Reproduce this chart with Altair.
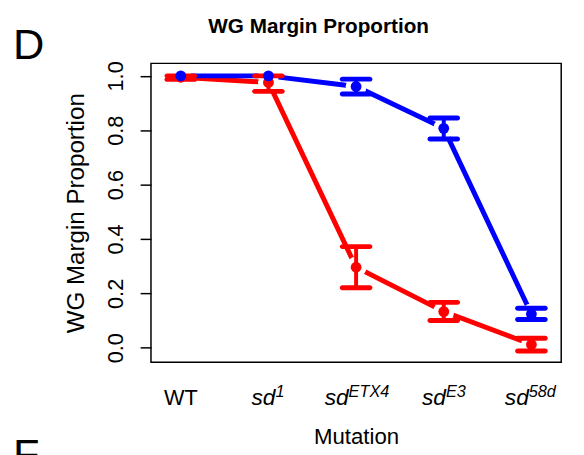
import altair as alt
import pandas as pd

# ---- data ----
categories = ["WT", "sd", "sd", "sd", "sd"]
superscripts = ["", "1", "ETX4", "E3", "58d"]

red_mean = [0.995, 0.976, 0.296, 0.133, 0.012]
red_lo = [0.987, 0.943, 0.221, 0.100, -0.012]
red_hi = [1.000, 1.000, 0.372, 0.167, 0.035]

blue_mean = [1.000, 1.000, 0.961, 0.807, 0.124]
blue_lo = [1.000, 1.000, 0.933, 0.768, 0.104]
blue_hi = [1.000, 1.000, 0.988, 0.845, 0.145]

y_ticks = [0.0, 0.2, 0.4, 0.6, 0.8, 1.0]

RED = "#FF0000"
BLUE = "#0000FF"
REG = "Liberation Sans, Arial, Helvetica, sans-serif"

rows = []
for series, m, lo, hi in (("red", red_mean, red_lo, red_hi), ("blue", blue_mean, blue_lo, blue_hi)):
    for i in range(len(categories)):
        rows.append({"series": series, "pos": i + 1, "mean": m[i], "lo": lo[i], "hi": hi[i]})
df = pd.DataFrame(rows)

labels = pd.DataFrame({"pos": list(range(1, len(categories) + 1)), "base": categories, "sup": superscripts})

xscale = alt.Scale(domain=[0.66, 5.34], nice=False, zero=False)
yscale = alt.Scale(domain=[-0.053, 1.046], nice=False, zero=False)

xaxis = alt.Axis(labels=False, ticks=False, domain=False, grid=False, title="Mutation",
                 titleFont=REG, titleFontSize=22.5, titleFontWeight="normal", titleColor="black",
                 titleX=208, titleY=82, titleAlign="center", titleBaseline="alphabetic")
yaxis = alt.Axis(values=y_ticks, format=".1f", labelAngle=270, labelAlign="center",
                 labelBaseline="alphabetic", labelPadding=18, tickSize=11, tickWidth=1.5,
                 tickColor="black", domain=False, grid=False, labelFont=REG, labelFontSize=22,
                 labelColor="black", labelOverlap=False, labelFlush=False,
                 title="WG Margin Proportion", titleFont=REG, titleFontSize=24.5,
                 titleFontWeight="normal", titleColor="black", titleAngle=270, titleX=-68,
                 titleY=151.5, titleAlign="center", titleBaseline="alphabetic")


def X(field):
    return alt.X(field, type="quantitative", scale=xscale, axis=xaxis)


def Y(field):
    return alt.Y(field, type="quantitative", scale=yscale, axis=yaxis)


base = alt.Chart(df)


def sel(s):
    return base.transform_filter(f"datum.series == '{s}'")


def lines(s, c):
    return sel(s).mark_line(color=c, strokeWidth=5, strokeCap="round").encode(x=X("pos"), y=Y("mean"))


gaps = base.mark_circle(color="white", size=450, opacity=1).encode(x=X("pos"), y=Y("mean"))


def errs(s, c):
    b = sel(s).transform_filter("datum.hi > datum.lo")
    stem = b.mark_rule(color=c, strokeWidth=4).encode(x=X("pos"), y=Y("lo"), y2="hi:Q")
    lo = b.mark_tick(color=c, orient="horizontal", size=33, thickness=5, cornerRadius=2.5,
                     opacity=1).encode(x=X("pos"), y=Y("lo"))
    hi = b.mark_tick(color=c, orient="horizontal", size=33, thickness=5, cornerRadius=2.5,
                     opacity=1).encode(x=X("pos"), y=Y("hi"))
    pts = sel(s).mark_circle(color=c, size=120, opacity=1).encode(x=X("pos"), y=Y("mean"))
    return [stem, lo, hi, pts]


lab = alt.Chart(labels)
wt = lab.transform_filter("datum.sup == ''").mark_text(
    font=REG, fontSize=22, align="center", baseline="alphabetic", color="black"
).encode(x=X("pos"), y=alt.value(346), text="base:N")
sdl = lab.transform_filter("datum.sup != ''").transform_calculate(
    anchor="datum.pos + (24 - 9.8 * length(datum.sup)) / 2 / 88.9"
)
sd_base = sdl.mark_text(font=REG, fontSize=23, fontStyle="italic", align="right",
                        baseline="alphabetic", color="black").encode(x=X("anchor"), y=alt.value(346), text="base:N")
sd_sup = sdl.mark_text(font=REG, fontSize=16.5, fontStyle="italic", align="left",
                       baseline="alphabetic", color="black").encode(x=X("anchor"), y=alt.value(338), text="sup:N")

title = alt.Chart(pd.DataFrame({"t": ["WG Margin Proportion"]})).mark_text(
    font=REG, fontSize=21, fontWeight="bold", align="center", baseline="alphabetic", color="black"
).encode(x=alt.value(170), y=alt.value(-31), text="t:N")
panel_d = alt.Chart(pd.DataFrame({"t": ["D"]})).mark_text(
    font=REG, fontSize=44, align="left", baseline="alphabetic", color="black"
).encode(x=alt.value(-140), y=alt.value(-4), text="t:N")
panel_f = alt.Chart(pd.DataFrame({"t": ["F"]})).mark_text(
    font=REG, fontSize=44, align="left", baseline="alphabetic", color="black"
).encode(x=alt.value(-140), y=alt.value(411), text="t:N")

chart = alt.layer(
    lines("red", RED), lines("blue", BLUE), gaps,
    *errs("red", RED), *errs("blue", BLUE),
    wt, sd_base, sd_sup, title, panel_d, panel_f
).properties(
    width=416, height=303,
    autosize=alt.AutoSizeParams(type="none"),
    padding={"left": 145, "top": 53, "right": 15, "bottom": 91},
).configure_view(stroke="black", strokeWidth=1.5)

chart.save("out.html", embed_options={"renderer": "svg", "actions": False})
